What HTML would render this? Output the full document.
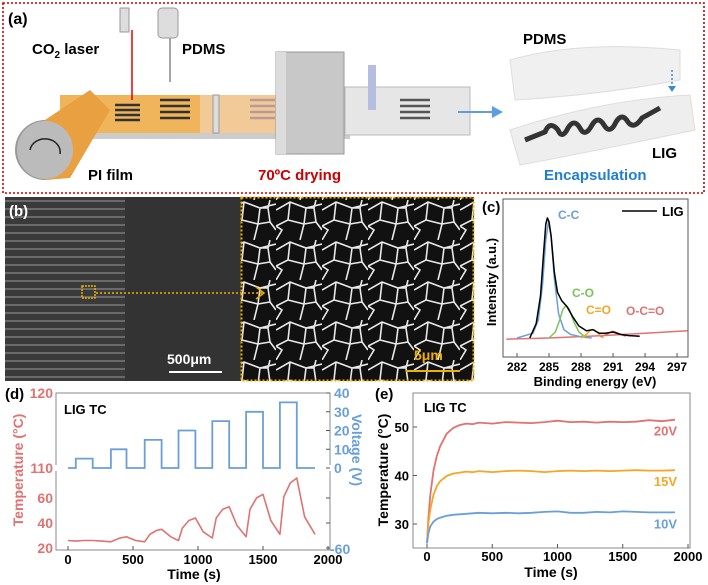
<!DOCTYPE html>
<html><head><meta charset="utf-8"><style>
html,body{margin:0;padding:0;background:#fff}
svg{display:block;font-family:"Liberation Sans",sans-serif;font-weight:bold}
</style></head><body>
<svg id="fig" width="708" height="585" viewBox="0 0 708 585">
<defs>
<pattern id="stripes" width="8" height="8" patternUnits="userSpaceOnUse"><rect width="8" height="8" fill="#3a3a3a"/><rect y="0" width="8" height="2" fill="#6a6a6a"/></pattern>
<pattern id="web" width="46" height="40" patternUnits="userSpaceOnUse"><rect width="46" height="40" fill="#111"/><path d="M0 10 L14 2 L30 8 L46 4 M14 2 L12 20 L0 26 M12 20 L28 24 L30 8 M28 24 L40 22 L46 30 M28 24 L24 40 M0 40 L6 30 L0 26 M40 22 L38 8 L30 8 M40 0 L38 8" stroke="#e8e8e8" stroke-width="1.6" fill="none"/></pattern>
</defs>

<!-- panel a -->
<g>
<rect x="3" y="3" width="701" height="190" fill="none" stroke="#c00" stroke-width="1.6" stroke-dasharray="2,2"/>
<text x="8" y="24" font-size="16">(a)</text>
<polygon points="60,95 345,95 345,135 60,135" fill="#f0b45a"/>
<polygon points="200,95 345,95 345,135 200,135" fill="#f3cfa6" opacity="0.8"/>
<rect x="60" y="133" width="290" height="6" fill="#ccc"/>
<polygon points="345,87 470,87 470,135 345,135" fill="#e6e6e6" stroke="#bbb"/>
<g fill="none" stroke="#333" stroke-width="2.5">
<path d="M115 105 h25 M115 110 h25 M115 115 h25 M115 120 h25" />
<path d="M160 100 h30 M160 106 h30 M160 112 h30 M160 118 h30"/>
<path d="M250 100 h25 M250 106 h25 M250 112 h25 M250 118 h25" stroke="#b99"/>
<path d="M400 100 h30 M400 106 h30 M400 112 h30 M400 118 h30" stroke="#555"/>
</g>
<ellipse cx="45" cy="150" rx="30" ry="30" fill="#999"/>
<path d="M45 120 L90 90 L110 110 L70 178 L45 180 Z" fill="#e8a040"/>
<ellipse cx="45" cy="150" rx="28" ry="29" fill="#bbb"/>
<path d="M30 150 a15 13 0 1 1 30 4" fill="none" stroke="#222" stroke-width="1.5"/>
<rect x="213" y="95" width="6" height="38" fill="#ddd" stroke="#999"/>
<rect x="276" y="52" width="68" height="102" fill="#c8c8c8" stroke="#999"/>
<rect x="276" y="52" width="10" height="102" fill="#dcdcdc"/>
<rect x="368" y="65" width="8" height="45" fill="#b5bde0"/>
<rect x="120" y="8" width="9" height="24" fill="#ddd" stroke="#999"/>
<line x1="132" y1="30" x2="132" y2="100" stroke="#e00" stroke-width="1.5"/>
<rect x="158" y="8" width="20" height="30" rx="4" fill="#ddd" stroke="#999"/>
<line x1="170" y1="38" x2="170" y2="82" stroke="#888" stroke-width="1.5"/>
<text x="32" y="54" font-size="15">CO<tspan font-size="10" dy="4">2</tspan><tspan dy="-4"> laser</tspan></text>
<text x="182" y="54" font-size="15">PDMS</text>
<text x="88" y="180" font-size="15">PI film</text>
<text x="258" y="180" font-size="15" fill="#c00">70ºC drying</text>
<path d="M458 112 L495 112" stroke="#5aa0e0" stroke-width="2"/>
<polygon points="492,106 503,112 492,118" fill="#5aa0e0"/>
<path d="M510 60 Q580 40 680 50 L680 80 Q600 95 515 100 Z" fill="#f0f0f0" stroke="#ddd"/>
<path d="M510 130 Q600 100 690 95 L695 130 Q600 150 520 165 Z" fill="#eeeeee" stroke="#ddd"/>
<path d="M525 140 L545 132 Q550 120 558 130 Q562 140 568 128 Q574 118 580 128 Q585 138 592 125 Q598 115 604 125 Q610 135 616 122 Q622 112 628 122 Q634 130 642 118 L660 108" stroke="#333" stroke-width="5" fill="none"/>
<line x1="672" y1="70" x2="672" y2="88" stroke="#3a8ad8" stroke-width="1.5" stroke-dasharray="2,2"/>
<polygon points="668,86 676,86 672,92" fill="#3a8ad8"/>
<text x="523" y="44" font-size="15">PDMS</text>
<text x="652" y="158" font-size="15">LIG</text>
<text x="544" y="180" font-size="15" fill="#1f7fd0">Encapsulation</text>
</g>

<!-- panel b -->
<g>
<rect x="5" y="197" width="236" height="184" fill="#333"/>
<rect x="5" y="197" width="120" height="184" fill="url(#stripes)"/>
<rect x="241" y="197" width="233" height="184" fill="url(#web)"/>
<rect x="241.5" y="197.5" width="232" height="183" fill="none" stroke="#f0b000" stroke-width="2" stroke-dasharray="2,2"/>
<rect x="82" y="286" width="13" height="12" fill="none" stroke="#f0b000" stroke-width="1.5" stroke-dasharray="2,1"/>
<line x1="96" y1="293" x2="262" y2="293" stroke="#f0b000" stroke-width="1.5" stroke-dasharray="2,2"/>
<path d="M256 287 L264 293 L256 299" stroke="#f0b000" fill="none" stroke-width="1.5"/>
<text x="9" y="216" font-size="15" fill="#fff">(b)</text>
<text x="167" y="364" font-size="14" fill="#fff">500μm</text>
<line x1="169" y1="372" x2="222" y2="372" stroke="#fff" stroke-width="2"/>
<text x="414" y="360" font-size="14" fill="#f0b000">5μm</text>
<line x1="406" y1="371" x2="460" y2="371" stroke="#f0b000" stroke-width="2"/>
</g>

<g id="pc"></g>
<g id="pd"></g>
<g id="pe"></g>
</svg>
<script>
// ---------- panel c data ----------
const cX = [283.2,283.8,284.2,284.5,284.7,284.85,285.0,285.2,285.5,285.8,286.2,286.7,287.2,287.8,288.5,289.1,289.7,290.3,291.0,291.7,292.5,293.5];
const cBlack = [0.0,0.12,0.35,0.72,0.95,1.0,0.97,0.85,0.55,0.38,0.31,0.26,0.18,0.10,0.06,0.07,0.04,0.04,0.05,0.03,0.02,0.015];
const cCCx = [282,283.5,284.0,284.4,284.7,284.95,285.2,285.5,285.9,286.4,287,288,289];
const cCCy = [0.0,0.04,0.15,0.45,0.82,0.97,0.85,0.5,0.2,0.07,0.03,0.01,0.0];
const cCOx = [285,285.6,286.0,286.3,286.6,286.9,287.3,287.8,288.5];
const cCOy = [0.0,0.05,0.15,0.24,0.27,0.24,0.14,0.05,0.0];
const cC2Ox = [288.0,288.5,288.9,289.2,289.6,290.1];
const cC2Oy = [0.0,0.03,0.065,0.07,0.04,0.0];
const cOCOx = [289.8,290.4,290.9,291.2,291.7,292.2];
const cOCOy = [0.01,0.03,0.055,0.05,0.03,0.015];
const cBaseX = [281,285,290,294,298];
const cBaseY = [-0.01,0.0,0.02,0.04,0.06];
const cTicks = [282,285,288,291,294,297];

// ---------- panel d data ----------
const dTime = [0,60,60,190,190,330,330,450,450,590,590,720,720,850,850,980,980,1110,1110,1240,1240,1370,1370,1500,1500,1630,1630,1760,1760,1900];
const dVolt = [0,0,5,5,0,0,10,10,0,0,15,15,0,0,20,20,0,0,25,25,0,0,30,30,0,0,35,35,0,0];
const dTt = [0,60,120,190,260,330,400,450,520,590,630,680,720,790,850,880,930,980,1040,1110,1140,1190,1240,1300,1370,1400,1450,1500,1560,1630,1660,1710,1760,1820,1900];
const dTemp = [26,25.5,26,26,25.5,25,28,29,26,25,31,34,35,29,26,36,42,44,33,28,44,51,53,38,29,51,60,63,42,31,61,72,76,45,31];
const dXTicks = [0,500,1000,1500,2000];
const dLTicks = [20,40,60];
const dRTicks = [0,10,20,30,40];

// ---------- panel e data ----------
const eT = [0,10,25,50,75,100,150,200,250,300,350,400,500,600,700,800,900,1000,1100,1200,1300,1400,1500,1600,1700,1800,1900];
const e20 = [26,31,36,41,44,46,48.6,49.8,50.4,50.7,50.6,50.9,50.7,51.0,50.9,50.8,51.0,51.3,51.0,51.1,50.9,51.1,51.0,51.1,51.4,51.2,51.5];
const e15 = [26,30,33,36,37.8,38.8,39.9,40.4,40.6,40.8,40.7,40.9,40.7,40.9,41.0,40.9,40.7,40.9,41.0,40.9,41.0,40.9,41.0,41.1,41.0,41.0,41.1];
const e10 = [26,28,29.5,30.5,31,31.3,31.7,31.9,32.0,32.1,32.2,32.3,32.2,32.3,32.2,32.3,32.5,32.6,32.3,32.3,32.5,32.4,32.6,32.5,32.4,32.4,32.4];
const eXTicks = [0,500,1000,1500,2000];
const eYTicks = [30,40,50];

const NS="http://www.w3.org/2000/svg";
function mk(p,tag,at,txt){const e=document.createElementNS(NS,tag);for(const k in at)e.setAttribute(k,at[k]);if(txt!==undefined)e.textContent=txt;p.appendChild(e);return e;}
function pts(xs,ys,fx,fy){return xs.map((x,i)=>fx(x).toFixed(1)+","+fy(ys[i]).toFixed(1)).join(" ");}
const RED="#e07272",BLUE="#6a9fd8",ORG="#f5a623",GRN="#7cc35a";

// ===== panel c =====
(function(){
const g=document.getElementById('pc');
const x=v=>517+(v-282)*10.67, y=v=>338-v*120;
let r=mk(g,'rect',{x:503,y:199,width:185,height:158,fill:'none',stroke:'#555','stroke-width':1});


const series=[[cBaseX,cBaseY,RED,'baseline-line'],[cCCx,cCCy,BLUE,'c-c-peak'],[cCOx,cCOy,GRN,'c-o-peak'],[cC2Ox,cC2Oy,ORG,'c=o-peak'],[cOCOx,cOCOy,RED,'o-c=o-peak'],[cX,cBlack,'#000','lig-spectrum']];
series.forEach(s=>{let l=mk(g,'polyline',{points:pts(s[0],s[1],x,y),fill:'none',stroke:s[2],'stroke-width':1.5,'stroke-linejoin':'round'});

});
cTicks.forEach(t=>{mk(g,'line',{x1:x(t),y1:357,x2:x(t),y2:353,stroke:'#555'});
let tl=mk(g,'text',{x:x(t),y:371,'font-size':12,'text-anchor':'middle'},t);

});
let a=mk(g,'text',{x:595,y:386,'font-size':13,'text-anchor':'middle'},'Binding energy (eV)');


let b=mk(g,'text',{x:0,y:0,'font-size':13,'text-anchor':'middle',transform:'translate(496,282) rotate(-90)'},'Intensity (a.u.)');


let c=mk(g,'text',{x:482,y:212,'font-size':15},'(c)');


mk(g,'line',{x1:622,y1:211,x2:657,y2:211,stroke:'#000','stroke-width':1.5});
let lg=mk(g,'text',{x:662,y:216,'font-size':13},'LIG');


[['C-C',558,219,BLUE],['C-O',572,297,GRN],['C=O',586,314,ORG],['O-C=O',626,315,RED]].forEach(p=>{let t=mk(g,'text',{x:p[1],y:p[2],'font-size':12,fill:p[3]},p[0]);

});
})();

// ===== panel d =====
(function(){
const g=document.getElementById('pd');
const x=v=>68+v*0.13, yv=v=>468-v*1.875, yt=v=>548-(v-20)*1.25;
let r=mk(g,'rect',{x:56,y:393,width:274,height:157,fill:'none',stroke:'#888','stroke-width':1});


mk(g,'rect',{x:52,y:465,width:8,height:6,fill:'#fff'});
mk(g,'rect',{x:326,y:465,width:8,height:6,fill:'#fff'});
let v=mk(g,'polyline',{points:pts(dTime,dVolt,x,yv),fill:'none',stroke:BLUE,'stroke-width':1.8});


let t=mk(g,'polyline',{points:pts(dTt,dTemp,x,yt),fill:'none',stroke:RED,'stroke-width':1.6,'stroke-linejoin':'round'});


dXTicks.forEach(k=>{mk(g,'line',{x1:x(k),y1:550,x2:x(k),y2:546,stroke:'#555'});
let l=mk(g,'text',{x:x(k),y:564,'font-size':13,'text-anchor':'middle'},k);

});
dLTicks.forEach(k=>{let l=mk(g,'text',{x:53,y:yt(k)+5,'font-size':14,'text-anchor':'end',fill:RED},k);


mk(g,'line',{x1:330,y1:yt(k),x2:326,y2:yt(k),stroke:'#555'});});
[['120',398],['110',473]].forEach(p=>{let l=mk(g,'text',{x:53,y:p[1],'font-size':14,'text-anchor':'end',fill:RED},p[0]);

});
dRTicks.forEach(k=>{mk(g,'line',{x1:330,y1:yv(k),x2:326,y2:yv(k),stroke:'#555'});
let l=mk(g,'text',{x:334,y:yv(k)+5,'font-size':14,fill:BLUE},k);

});
let m=mk(g,'text',{x:330,y:554,'font-size':14,fill:BLUE},'-60');


let ax=mk(g,'text',{x:194,y:579,'font-size':14,'text-anchor':'middle'},'Time (s)');


let yl=mk(g,'text',{x:0,y:0,'font-size':14,'text-anchor':'middle',fill:RED,transform:'translate(23,470) rotate(-90)'},'Temperature (°C)');


let yr=mk(g,'text',{x:0,y:0,'font-size':14,'text-anchor':'middle',fill:BLUE,transform:'translate(352,450) rotate(90)'},'Voltage (V)');


let pl=mk(g,'text',{x:5,y:399,'font-size':15},'(d)');


let lt=mk(g,'text',{x:64,y:414,'font-size':13},'LIG TC');


})();

// ===== panel e =====
(function(){
const g=document.getElementById('pe');
const x=v=>427+v*0.1305, y=v=>524-(v-30)*4.85;
let r=mk(g,'rect',{x:413,y:393,width:277,height:155,fill:'none',stroke:'#888','stroke-width':1});


[[e20,RED,'series-20v'],[e15,ORG,'series-15v'],[e10,BLUE,'series-10v']].forEach(s=>{let l=mk(g,'polyline',{points:pts(eT,s[0],x,y),fill:'none',stroke:s[1],'stroke-width':1.8,'stroke-linejoin':'round'});

});
eXTicks.forEach(k=>{mk(g,'line',{x1:x(k),y1:548,x2:x(k),y2:544,stroke:'#555'});
let l=mk(g,'text',{x:x(k),y:561,'font-size':13,'text-anchor':'middle'},k);

});
eYTicks.forEach(k=>{mk(g,'line',{x1:413,y1:y(k),x2:417,y2:y(k),stroke:'#555'});
let l=mk(g,'text',{x:409,y:y(k)+5,'font-size':13,'text-anchor':'end'},k);

});
let ax=mk(g,'text',{x:551,y:577,'font-size':14,'text-anchor':'middle'},'Time (s)');


let yl=mk(g,'text',{x:0,y:0,'font-size':14,'text-anchor':'middle',transform:'translate(388,470) rotate(-90)'},'Temperature (°C)');


let pl=mk(g,'text',{x:375,y:399,'font-size':15},'(e)');


let lt=mk(g,'text',{x:424,y:412,'font-size':13},'LIG TC');


[['20V',e20,RED],['15V',e15,ORG],['10V',e10,BLUE]].forEach(p=>{let l=mk(g,'text',{x:677,y:y(p[1][p[1].length-1])+16,'font-size':13,'text-anchor':'end',fill:p[2]},p[0]);

});
})();
</script>
</body></html>
